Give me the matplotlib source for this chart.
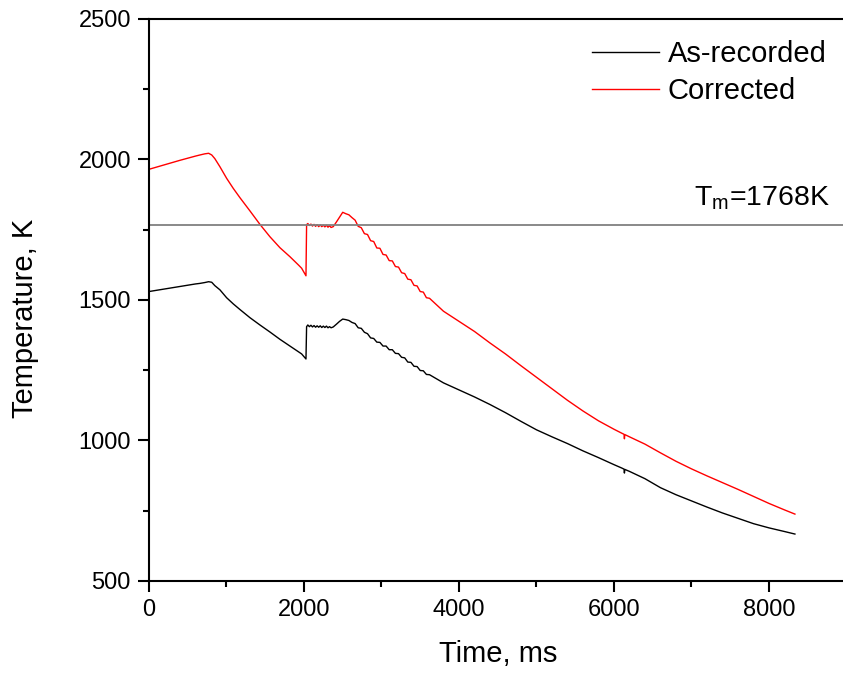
import matplotlib
matplotlib.use("Agg")
import matplotlib.pyplot as plt
from matplotlib.ticker import MultipleLocator

# ---------------------------------------------------------
# DATA
# ---------------------------------------------------------
time_ms = [
    0, 200, 400, 600, 658, 720, 770, 810, 850, 916, 1002, 1088, 1174, 1303,
    1432, 1561, 1690, 1819, 1927, 1970, 2026,
    2034, 2050, 2070, 2090, 2110, 2130, 2150, 2170, 2190, 2210, 2230, 2250,
    2270, 2290, 2310, 2330, 2350, 2378,
    2420, 2460, 2500,
    2540, 2580, 2620, 2660, 2700, 2740, 2780, 2820, 2860, 2900, 2940, 2980,
    3020, 3060, 3100, 3140, 3180, 3220, 3260, 3300, 3340, 3380, 3420, 3460,
    3500, 3540, 3580, 3620,
    3800, 4000, 4200, 4400, 4600, 4800, 5000, 5200, 5400, 5600, 5800, 6000,
    6100, 6130, 6135, 6140, 6200, 6400, 6600, 6800, 7000, 7200, 7400, 7600,
    7800, 8000, 8200, 8335,
]

as_recorded = [
    1530, 1539, 1548, 1557, 1559, 1562, 1565, 1563, 1551, 1536, 1508, 1486,
    1466, 1437, 1411, 1386, 1360, 1336, 1316, 1308, 1290,
    1405, 1411, 1405, 1410, 1404, 1409, 1403, 1408, 1403, 1408, 1402, 1407,
    1402, 1407, 1401, 1405, 1401, 1404,
    1414, 1424, 1432,
    1430, 1427, 1420, 1416, 1401, 1399, 1385, 1380, 1365, 1363, 1350, 1349,
    1336, 1336, 1323, 1323, 1310, 1309, 1296, 1294, 1279, 1278, 1264, 1263,
    1249, 1248, 1235, 1234,
    1205, 1180, 1155, 1128, 1099, 1068, 1038, 1013, 989, 963, 939, 914,
    902, 898, 884, 897, 890, 864, 832, 807, 785, 763, 742, 723,
    704, 689, 676, 667,
]

corrected = [
    1965, 1981, 1997, 2012, 2016, 2020, 2022, 2016, 2003, 1974, 1933, 1897,
    1864, 1817, 1769, 1725, 1686, 1654, 1625, 1613, 1586,
    1768, 1772, 1765, 1770, 1763, 1769, 1762, 1768, 1761, 1767, 1761, 1766,
    1760, 1766, 1759, 1764, 1758, 1761,
    1778, 1795, 1812,
    1807, 1803, 1793, 1784, 1762, 1757, 1736, 1733, 1711, 1708, 1685, 1684,
    1662, 1660, 1640, 1639, 1619, 1617, 1597, 1594, 1574, 1572, 1552, 1550,
    1530, 1528, 1508, 1506,
    1460, 1424, 1388, 1347, 1308, 1266, 1225, 1184, 1143, 1105, 1070, 1040,
    1026, 1022, 1006, 1021, 1013, 987, 956, 926, 899, 874, 850, 826,
    801, 776, 753, 738,
]

T_MELT = 1768

# ---------------------------------------------------------
# PLOT
# ---------------------------------------------------------
plt.rcParams["font.family"] = ["Liberation Sans", "DejaVu Sans"]

fig = plt.figure(figsize=(8.43, 6.75), dpi=100)
ax = fig.add_axes([0.1767, 0.1393, 0.8274, 0.8326])

ax.plot(time_ms, as_recorded, color="black", linewidth=1.0, label="As-recorded")
ax.plot(time_ms, corrected, color="red", linewidth=1.0, label="Corrected")
ax.axhline(T_MELT, color="#808080", linewidth=1.3)
ax.text(8780, 1838, r"T$_\mathregular{m}$=1768K", fontsize=20.5,
        ha="right", va="baseline")

ax.set_xlim(0, 9000)
ax.set_ylim(500, 2500)
ax.xaxis.set_major_locator(MultipleLocator(2000))
ax.xaxis.set_minor_locator(MultipleLocator(1000))
ax.yaxis.set_major_locator(MultipleLocator(500))
ax.yaxis.set_minor_locator(MultipleLocator(250))
ax.tick_params(which="major", direction="out", length=8, width=1.5,
               labelsize=17, pad=5)
ax.tick_params(which="minor", direction="out", length=4.5, width=1.5)
for s in ax.spines.values():
    s.set_linewidth(1.5)

ax.set_xlabel("Time, ms", fontsize=21, labelpad=14)
ax.set_ylabel("Temperature, K", fontsize=21)
ax.yaxis.set_label_coords(-0.158, 0.468)

leg = ax.legend(loc="upper right", bbox_to_anchor=(1.009, 1.009), frameon=False,
                fontsize=21, handlelength=2.3, handletextpad=0.3,
                labelspacing=0.32)

fig.savefig("out.png", dpi=100)
